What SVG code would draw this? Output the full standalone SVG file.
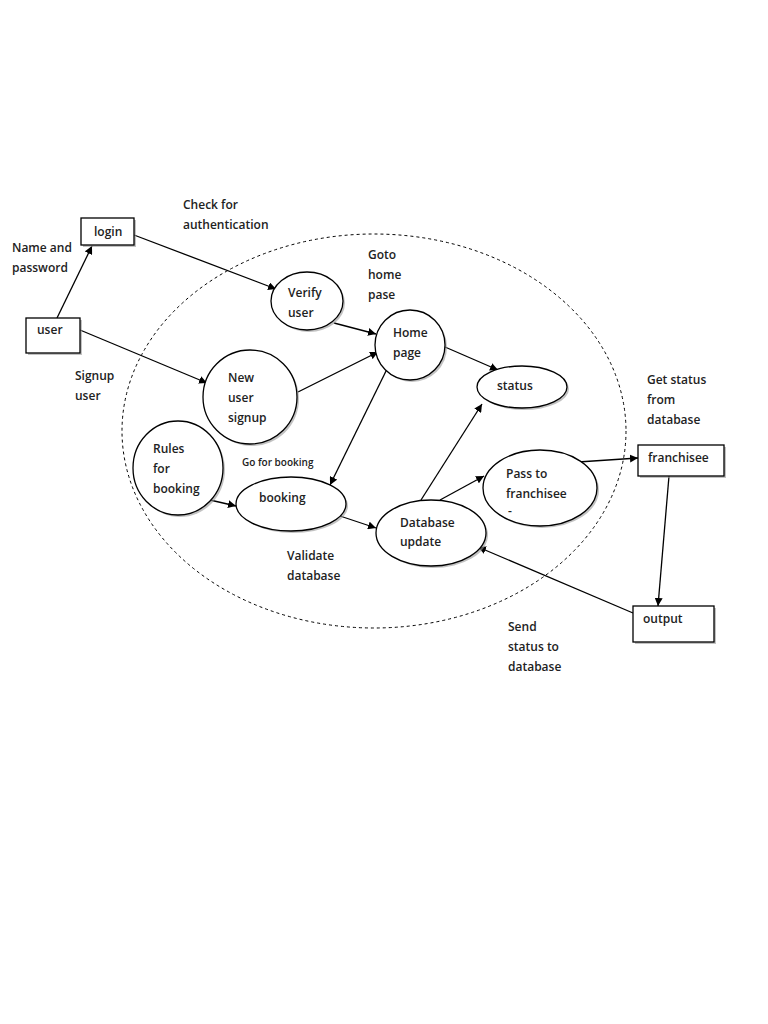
<svg xmlns="http://www.w3.org/2000/svg" width="768" height="1024" viewBox="0 0 768 1024">
<style>
text{font-family:"Open Sans","Noto Sans",sans-serif;font-size:12px;font-weight:600;fill:#222}
.sm{font-size:10px}
.n{fill:#fff;stroke:#000;stroke-width:1.3}
.sh{fill:#999;stroke:none;opacity:0.6}
.c{stroke:#000;stroke-width:1.3;fill:none;marker-end:url(#ah)}
</style>
<defs>
<marker id="ah" viewBox="0 0 10 10" refX="10" refY="5" markerWidth="8" markerHeight="8" markerUnits="userSpaceOnUse" orient="auto"><path d="M0,0L10,5L0,10z" fill="#000"/></marker>
</defs>
<rect width="768" height="1024" fill="#fff"/>
<ellipse cx="374" cy="431" rx="252" ry="197" fill="none" stroke="#000" stroke-width="1" stroke-dasharray="3,3"/>
<g id="connectors">
<line class="c" x1="57" y1="318" x2="92" y2="246"/>
<line class="c" x1="134" y1="235" x2="276" y2="289"/>
<line class="c" x1="80" y1="330" x2="207" y2="383"/>
<line class="c" x1="334" y1="323" x2="376" y2="334"/>
<line class="c" x1="298" y1="392" x2="378" y2="352"/>
<line class="c" x1="445" y1="347" x2="498" y2="370"/>
<line class="c" x1="388" y1="367" x2="330" y2="485"/>
<line class="c" x1="210" y1="500" x2="236" y2="506"/>
<line class="c" x1="340" y1="516" x2="376" y2="528"/>
<line class="c" x1="421" y1="500" x2="482" y2="404"/>
<line class="c" x1="440" y1="500" x2="484" y2="476"/>
<line class="c" x1="578" y1="462" x2="638" y2="458"/>
<line class="c" x1="669" y1="476" x2="658" y2="606"/>
<line class="c" x1="633" y1="613" x2="478" y2="547"/>
</g>
<g id="login"><rect class="sh" x="83" y="220" width="53" height="27"/><rect class="n" x="81" y="218" width="53" height="27"/><text x="94" y="236">login</text></g>
<g id="user"><rect class="sh" x="28" y="320" width="54" height="35"/><rect class="n" x="26" y="318" width="54" height="35"/><text x="37" y="334">user</text></g>
<g id="franchisee"><rect class="sh" x="640" y="447" width="86" height="31"/><rect class="n" x="638" y="445" width="86" height="31"/><text x="648" y="462">franchisee</text></g>
<g id="output"><rect class="sh" x="635" y="608" width="81" height="36"/><rect class="n" x="633" y="606" width="81" height="36"/><text x="643" y="623">output</text></g>
<g id="verify"><ellipse class="sh" cx="309" cy="303" rx="36" ry="29"/><ellipse class="n" cx="307" cy="301" rx="36" ry="29"/><text x="288" y="297">Verify</text><text x="288" y="317">user</text></g>
<g id="home"><ellipse class="sh" cx="412" cy="347" rx="35" ry="35"/><ellipse class="n" cx="410" cy="345" rx="35" ry="35"/><text x="393" y="337">Home</text><text x="393" y="357">page</text></g>
<g id="status"><ellipse class="sh" cx="524" cy="389" rx="45" ry="21"/><ellipse class="n" cx="522" cy="387" rx="45" ry="21"/><text x="497" y="390">status</text></g>
<g id="newuser"><ellipse class="sh" cx="252" cy="399" rx="47" ry="47"/><ellipse class="n" cx="250" cy="397" rx="47" ry="47"/><text x="228" y="382">New</text><text x="228" y="402">user</text><text x="228" y="422">signup</text></g>
<g id="rules"><ellipse class="sh" cx="180" cy="470" rx="45" ry="47"/><ellipse class="n" cx="178" cy="468" rx="45" ry="47"/><text x="153" y="453">Rules</text><text x="153" y="473">for</text><text x="153" y="493">booking</text></g>
<g id="booking"><ellipse class="sh" cx="293" cy="506" rx="55" ry="27"/><ellipse class="n" cx="291" cy="504" rx="55" ry="27"/><text x="259" y="502">booking</text></g>
<g id="database"><ellipse class="sh" cx="433" cy="535" rx="55" ry="33"/><ellipse class="n" cx="431" cy="533" rx="55" ry="33"/><text x="400" y="527">Database</text><text x="400" y="546">update</text></g>
<g id="pass"><ellipse class="sh" cx="542" cy="490" rx="57" ry="38"/><ellipse class="n" cx="540" cy="488" rx="57" ry="38"/><text x="506" y="478">Pass to</text><text x="506" y="498">franchisee</text><text x="508" y="515">-</text></g>
<g id="labels">
<text x="183" y="209">Check for</text><text x="183" y="229">authentication</text>
<text x="12" y="252">Name and</text><text x="12" y="272">password</text>
<text x="75" y="380">Signup</text><text x="75" y="400">user</text>
<text x="368" y="259">Goto</text><text x="368" y="279">home</text><text x="368" y="299">pase</text>
<text class="sm" x="242" y="466">Go for booking</text>
<text x="287" y="560">Validate</text><text x="287" y="580">database</text>
<text x="647" y="384">Get status</text><text x="647" y="404">from</text><text x="647" y="424">database</text>
<text x="508" y="631">Send</text><text x="508" y="651">status to</text><text x="508" y="671">database</text>
</g>
</svg>
